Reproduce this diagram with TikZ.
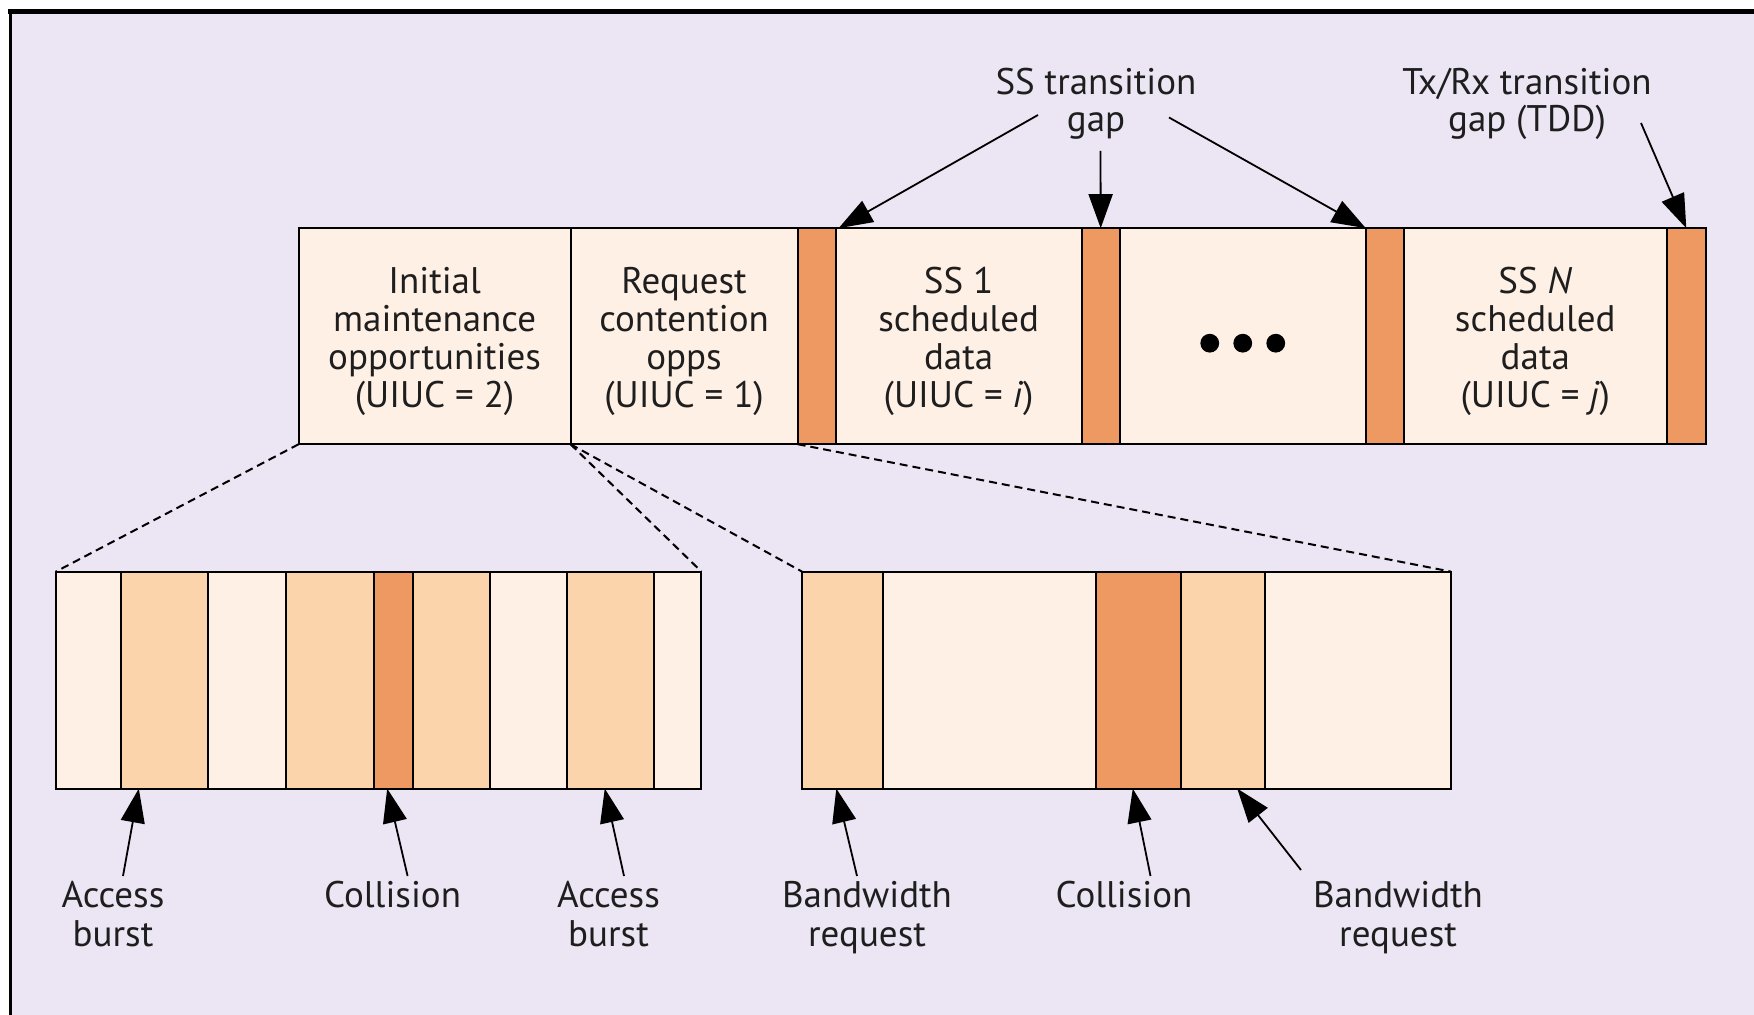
\documentclass[tikz,border=0pt]{standalone}
\usepackage{fontspec}
\setmainfont{PT Sans}
\usetikzlibrary{arrows.meta}

\definecolor{bgcol}{RGB}{236,229,243}
\definecolor{lightfill}{RGB}{255,240,230}
\definecolor{midfill}{RGB}{252,212,172}
\definecolor{darkfill}{RGB}{238,152,98}
\definecolor{inkcol}{RGB}{30,30,30}

\begin{document}
\begin{tikzpicture}[x=0.5pt,y=-0.5pt,
  cell/.style={draw=black, line width=1pt, inner sep=0pt, outer sep=0pt,
    anchor=north west},
  topcell/.style={cell, minimum height=108pt},
  lowcell/.style={cell, minimum height=108.5pt},
  wd/.style={minimum width=#1*0.5pt},
  celltext/.style={align=center, inner sep=0pt, text=inkcol,
    font=\fontsize{18.5}{19}\selectfont},
  label/.style={align=center, inner sep=0pt, text=inkcol,
    font=\fontsize{18.5}{19.5}\selectfont},
  zoomline/.style={line width=1pt, dash pattern=on 4pt off 2.5pt},
  pointer/.style={line width=0.9pt, -{Triangle[length=17pt,width=12pt]}}]

\useasboundingbox (0,0) rectangle (1754,1015);

% panel background and frame
\fill[white] (0,0) rectangle (1754,1015);
\fill[bgcol] (9,12) rectangle (1754,1015);
\draw[line width=2.5pt] (8,12) -- (1754,12);
\draw[line width=1.5pt] (10,12) -- (10,1015);

% uplink subframe
\node[topcell, wd=271.8, fill=lightfill] (init) at (298.7,228.2) {};
\node[topcell, wd=227.1, fill=lightfill] (req) at (init.north east) {};
\node[topcell, wd=38, fill=darkfill] (g1) at (req.north east) {};
\node[topcell, wd=246.1, fill=lightfill] (ss1) at (g1.north east) {};
\node[topcell, wd=38, fill=darkfill] (g2) at (ss1.north east) {};
\node[topcell, wd=246.1, fill=lightfill] (dots) at (g2.north east) {};
\node[topcell, wd=38.1, fill=darkfill] (g3) at (dots.north east) {};
\node[topcell, wd=262.8, fill=lightfill] (ssn) at (g3.north east) {};
\node[topcell, wd=39.2, fill=darkfill] (g4) at (ssn.north east) {};

\node[celltext] (inittext) at ([yshift=-2.8pt]init.center)
  {Initial\\maintenance\\opportunities\\(UIUC = 2)};
\node[celltext] (reqtext) at ([yshift=-2.8pt]req.center)
  {Request\\contention\\opps\\(UIUC = 1)};
\node[celltext] (ss1text) at ([yshift=-2.8pt]ss1.center)
  {SS 1\\scheduled\\data\\(UIUC = \textit{i})};
\node[celltext] (ssntext) at ([yshift=-2.8pt]ssn.center)
  {SS \textit{N}\\scheduled\\data\\(UIUC = \textit{j})};

\foreach \dx in {-16.5,0,16.5}
  \fill ([shift={(\dx pt,-3.5pt)}]dots.center) circle[radius=4.7pt];

% initial maintenance opportunities, expanded
\node[lowcell, wd=64.9, fill=lightfill] (ll1) at (55.9,571.6) {};
\node[lowcell, wd=87.3, fill=midfill] (ll2) at (ll1.north east) {};
\node[lowcell, wd=78.3, fill=lightfill] (ll3) at (ll2.north east) {};
\node[lowcell, wd=87.2, fill=midfill] (ll4) at (ll3.north east) {};
\node[lowcell, wd=39.2, fill=darkfill] (ll5) at (ll4.north east) {};
\node[lowcell, wd=77.2, fill=midfill] (ll6) at (ll5.north east) {};
\node[lowcell, wd=77.1, fill=lightfill] (ll7) at (ll6.north east) {};
\node[lowcell, wd=87.3, fill=midfill] (ll8) at (ll7.north east) {};
\node[lowcell, wd=47.0, fill=lightfill] (ll9) at (ll8.north east) {};

% request contention opportunities, expanded
\node[lowcell, wd=80.6, fill=midfill] (lr1) at (802.0,571.6) {};
\node[lowcell, wd=213.6, fill=lightfill] (lr2) at (lr1.north east) {};
\node[lowcell, wd=85.1, fill=darkfill] (lr3) at (lr2.north east) {};
\node[lowcell, wd=83.9, fill=midfill] (lr4) at (lr3.north east) {};
\node[lowcell, wd=185.7, fill=lightfill] (lr5) at (lr4.north east) {};

% zoom guides
\draw[zoomline] (init.south west) -- (ll1.north west);
\draw[zoomline] (init.south east) -- (ll9.north east);
\draw[zoomline] (req.south west) -- (lr1.north west);
\draw[zoomline] (g1.south west) -- (lr5.north east);

% upper labels and pointers
\node[label, font=\fontsize{18.5}{18.5}\selectfont] (sslab) at (1096,103.5)
  {SS transition\\gap};
\node[label, font=\fontsize{18.5}{18.5}\selectfont] (txlab) at (1527,103.5)
  {Tx/Rx transition\\gap (TDD)};
\coordinate (t1) at (1038,115);
\coordinate (t2) at (1100.5,151);
\coordinate (t3) at (1169,117.5);
\coordinate (t4) at (1641,123);
\draw[pointer] (t1) -- ([xshift=1.5pt]g1.north east);
\draw[pointer] (t2) -- (g2.north);
\draw[pointer] (t3) -- (g3.north west);
\draw[pointer] (t4) -- (g4.north);

% lower labels and pointers
\node[label] (ab1) at (113,914.5) {Access\\burst};
\node[label] (col1) at (392.6,895) {Collision};
\node[label] (ab2) at (608.5,914.5) {Access\\burst};
\node[label] (bw1) at (867,918) {Bandwidth\\request};
\node[label] (col2) at (1124,895) {Collision};
\node[label] (bw2) at (1398,918) {Bandwidth\\request};
\coordinate (b1) at (123,876);
\coordinate (b2) at (407.6,876);
\coordinate (b3) at (624,876);
\coordinate (b4) at (857,876);
\coordinate (b5) at (1150.5,876);
\coordinate (b6) at (1301,870);
\draw[pointer] (b1) -- ([xshift=9pt]ll2.south west);
\draw[pointer] (b2) -- ([xshift=-3pt]ll5.south);
\draw[pointer] (b3) -- ([xshift=-3pt]ll8.south);
\draw[pointer] (b4) -- ([xshift=-3pt]lr1.south);
\draw[pointer] (b5) -- ([xshift=-3pt]lr3.south);
\draw[pointer] (b6) -- ([xshift=7pt]lr4.south);

\end{tikzpicture}
\end{document}
